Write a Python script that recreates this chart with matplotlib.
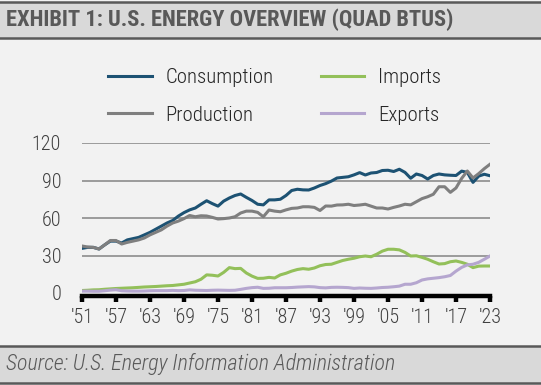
import matplotlib
matplotlib.use("Agg")
import matplotlib.pyplot as plt
from matplotlib.patches import Rectangle
from matplotlib.lines import Line2D
from matplotlib import font_manager

# ---- data (quad BTUs) ----
years = list(range(1951, 2024))

consumption = [
    35.7, 36.5, 36.5, 35.2, 38.5, 41.5, 41.5, 40.0, 42.5, 43.5,
    44.5, 46.5, 48.5, 51.0, 53.5, 56.0, 58.0, 61.5, 64.3, 66.5,
    68.0, 71.0, 73.8, 71.5, 69.5, 73.5, 76.0, 78.0, 79.2, 76.5,
    74.0, 71.0, 70.5, 74.5, 74.5, 75.0, 78.0, 82.0, 83.0, 82.5,
    82.4, 84.0, 86.0, 87.5, 89.5, 92.0, 92.5, 93.0, 94.5, 96.3,
    94.4, 96.0, 96.4, 98.0, 98.2, 97.2, 99.0, 96.5, 91.8, 95.2,
    94.0, 91.2, 94.0, 95.2, 94.5, 94.2, 94.0, 97.5, 96.5, 88.5,
    93.5, 95.0, 93.8,
]
production = [
    37.6, 36.8, 36.5, 35.2, 38.5, 42.0, 42.0, 39.2, 40.5, 41.5,
    42.5, 44.0, 46.5, 48.5, 50.5, 53.5, 56.0, 57.5, 59.5, 62.0,
    61.0, 61.8, 61.6, 60.5, 59.2, 59.5, 60.0, 61.0, 64.0, 65.5,
    65.5, 64.5, 61.0, 66.4, 65.5, 65.0, 66.5, 67.7, 68.0, 69.0,
    69.0, 68.5, 66.0, 69.6, 69.5, 70.4, 70.5, 71.0, 70.0, 70.4,
    71.0, 69.5, 68.0, 68.0, 67.2, 68.5, 69.6, 71.0, 70.5, 73.0,
    75.5, 77.0, 79.0, 85.0, 85.0, 80.5, 84.0, 91.7, 97.6, 92.0,
    95.5, 99.5, 103.0,
]
imports = [
    2.0, 2.2, 2.5, 2.6, 3.0, 3.3, 3.6, 3.8, 4.0, 4.2,
    4.5, 4.8, 5.0, 5.2, 5.5, 5.8, 6.0, 6.5, 7.0, 8.0,
    9.0, 11.0, 14.5, 14.2, 13.6, 16.5, 20.3, 19.5, 19.7, 16.0,
    13.5, 11.7, 11.8, 12.5, 12.0, 14.5, 15.8, 17.5, 18.8, 19.5,
    19.0, 20.0, 21.8, 22.8, 23.0, 24.5, 26.0, 27.0, 27.8, 29.0,
    29.6, 29.0, 31.0, 33.5, 35.0, 35.0, 34.5, 32.5, 29.6, 29.8,
    28.5, 27.0, 25.0, 23.2, 23.5, 25.0, 25.6, 24.5, 23.0, 20.3,
    21.5, 21.6, 21.6,
]
exports = [
    1.5, 1.5, 1.4, 1.4, 1.8, 2.3, 2.6, 1.8, 1.6, 1.5,
    1.5, 1.6, 1.8, 1.9, 1.9, 1.9, 2.1, 1.9, 2.0, 2.5,
    2.2, 2.1, 2.0, 2.2, 2.3, 2.2, 2.1, 2.2, 2.9, 3.7,
    4.3, 4.6, 3.7, 3.8, 4.2, 4.2, 4.2, 4.4, 4.7, 4.9,
    5.1, 4.9, 4.3, 4.1, 4.5, 4.6, 4.5, 4.3, 3.7, 4.0,
    3.8, 3.7, 4.0, 4.4, 4.6, 5.0, 5.5, 7.0, 7.0, 8.2,
    10.4, 11.3, 11.8, 12.3, 13.0, 14.0, 17.5, 20.5, 22.5, 23.0,
    24.5, 27.0, 29.6,
]

tick_years = list(range(1951, 2024, 6))
tick_labels = ["'%02d" % (y % 100) for y in tick_years]
y_ticks = [0, 30, 60, 90, 120]

COLORS = {
    "Consumption": "#1d5273",
    "Production": "#7f7f7f",
    "Imports": "#93c05a",
    "Exports": "#b5a6cf",
}
TEXT_COLOR = "#404040"
BG = "#f2f2f2"
BAR = "#d9d9d9"
BAR_EDGE = "#595959"

# a narrow sans is closest to the reference's condensed type
available = {f.name for f in font_manager.fontManager.ttflist}
FONT = "DejaVu Sans"
for cand in ["Roboto Condensed", "Archivo Narrow", "PT Sans Narrow",
             "Liberation Sans Narrow", "Open Sans Condensed", "Asap Condensed"]:
    if cand in available:
        FONT = cand
        break
plt.rcParams["font.family"] = [FONT, "DejaVu Sans"]
narrow = FONT != "DejaVu Sans"
light = "light" if narrow else "normal"

W, H = 541, 385
fig = plt.figure(figsize=(W / 100, H / 100), dpi=100, facecolor=BG)


def fy(py):
    return 1 - py / H


# header and footer bars
for top, bottom in [(2, 38), (346, 383)]:
    fig.patches.append(Rectangle((0, fy(bottom)), 1, fy(top) - fy(bottom),
                                 transform=fig.transFigure, facecolor=BAR,
                                 edgecolor="none", zorder=0))
    for py in (top, bottom):
        fig.add_artist(Line2D([0, 1], [fy(py), fy(py)], transform=fig.transFigure,
                              color=BAR_EDGE, lw=1.8))

fig.text(6 / W, fy(20), "EXHIBIT 1: U.S. ENERGY OVERVIEW (QUAD BTUS)",
         fontsize=16.2 if narrow else 13, fontweight="bold", color="#595959",
         va="center", ha="left")
fig.text(6 / W, fy(364), "Source: U.S. Energy Information Administration",
         fontsize=15.8 if narrow else 12, style="italic", fontweight=light,
         color="#595959", va="center", ha="left")

ax = fig.add_axes([82 / W, fy(293), (490 - 82) / W, (293 - 143) / H])
ax.set_facecolor(BG)

series = [
    ("Consumption", consumption),
    ("Production", production),
    ("Imports", imports),
    ("Exports", exports),
]
handles = []
for name, vals in series:
    h, = ax.plot(years, vals, color=COLORS[name], lw=2.2, label=name,
                 solid_joinstyle="round", zorder=3)
    handles.append(h)

ax.set_xlim(1951, 2023)
ax.set_ylim(0, 120)
ax.set_yticks(y_ticks)
ax.set_xticks(tick_years)
ax.set_xticklabels(tick_labels)
for v in y_ticks[1:]:
    ax.axhline(v, color="#8c8c8c", lw=1.2, zorder=1)

for side in ("top", "right", "left"):
    ax.spines[side].set_visible(False)
ax.spines["bottom"].set_color("black")
ax.spines["bottom"].set_linewidth(3.2)
ax.spines["bottom"].set_position(("outward", 2))
ax.spines["bottom"].set_zorder(4)
tick_size = 14.5 if narrow else 11
ax.tick_params(axis="x", direction="out", length=4, width=3.2, color="black",
               labelsize=tick_size, labelcolor=TEXT_COLOR, pad=5)
ax.tick_params(axis="y", length=0, labelsize=tick_size, labelcolor=TEXT_COLOR, pad=15)
for lab in ax.get_xticklabels() + ax.get_yticklabels():
    lab.set_fontweight(light)

leg_size = 15 if narrow else 11
fig.legend(handles=handles, ncol=2, loc="upper left",
           bbox_to_anchor=(108 / W, fy(68)), frameon=False, borderpad=0,
           borderaxespad=0, prop={"size": leg_size, "weight": light},
           labelcolor="#262626", handlelength=2.1, handletextpad=0.65,
           columnspacing=2.26, labelspacing=0.9)

fig.savefig("out.png", dpi=100, facecolor=BG)
